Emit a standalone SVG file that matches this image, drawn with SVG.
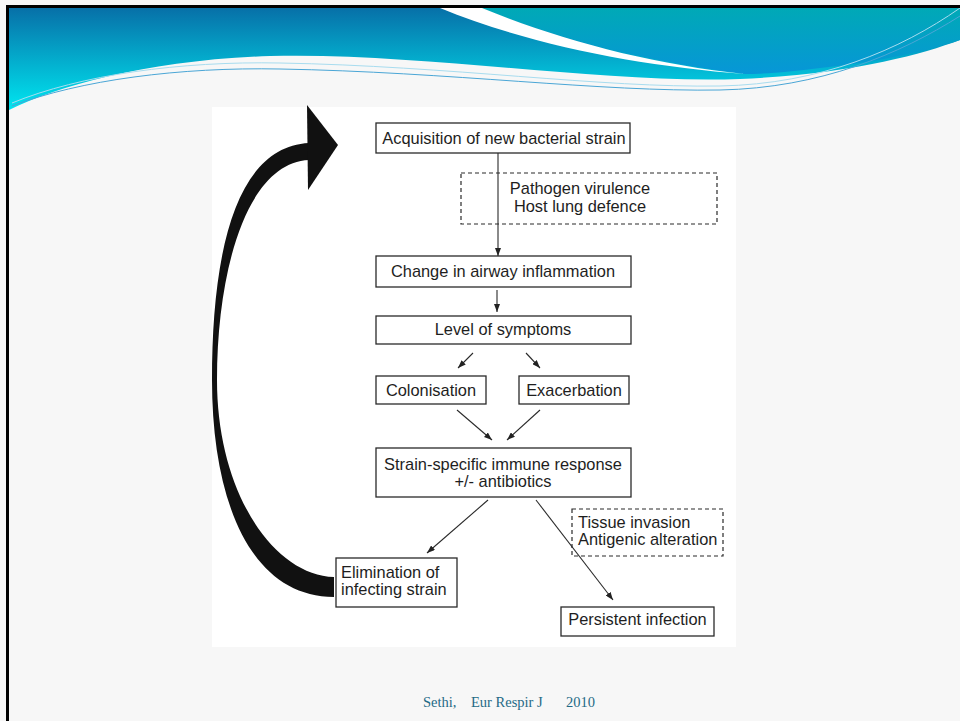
<svg xmlns="http://www.w3.org/2000/svg" width="960" height="721" viewBox="0 0 960 721">
  <defs>
    <linearGradient id="gMain" x1="0" y1="8" x2="0" y2="110" gradientUnits="userSpaceOnUse">
      <stop offset="0" stop-color="#0770a8"/>
      <stop offset="1" stop-color="#00e6f0"/>
    </linearGradient>
    <linearGradient id="gRight" x1="0" y1="8" x2="0" y2="75" gradientUnits="userSpaceOnUse">
      <stop offset="0" stop-color="#00a9b6"/>
      <stop offset="1" stop-color="#0796d8"/>
    </linearGradient>
    <marker id="ah" markerWidth="8" markerHeight="6" refX="8" refY="3" orient="auto" markerUnits="userSpaceOnUse">
      <path d="M0,0 L8,3 L0,6 Z" fill="#222"/>
    </marker>
    <style>
      .box { fill: #fff; stroke: #2a2a2a; stroke-width: 1.3; }
      .dash { fill: none; stroke: #2a2a2a; stroke-width: 1.2; stroke-dasharray: 4 3; }
      .t { font-family: "Liberation Sans", Arial, sans-serif; font-size: 16.4px; fill: #1e1e1e; }
      .c { text-anchor: middle; }
      .conn { stroke: #2a2a2a; stroke-width: 1.1; fill: none; marker-end: url(#ah); }
      .foot { font-family: "Liberation Serif", "Times New Roman", serif; font-size: 14.5px; fill: #1f6a86; }
    </style>
  </defs>

  <!-- slide background -->
  <rect x="0" y="0" width="960" height="721" fill="#f7f7f7"/>

  <!-- header -->
  <g id="header">
    <path d="M9,8 H960 V40 C920,55 850,74 740,79 C600,84 420,52 270,56 C150,60 60,85 9,110 Z" fill="url(#gMain)"/>
    <path d="M480,8 H960 V40 C930,50 880,62 820,68 C790,72 765,74 745,74 C650,62 560,40 480,8 Z" fill="url(#gRight)"/>
    <path d="M440,8 H482 C560,40 650,64 745,74 C640,66 530,45 440,8 Z" fill="#ffffff"/>
    <path d="M12,103 C80,75 180,61 280,63 C450,66 600,88 720,86 C820,84 900,50 960,8" fill="none" stroke="#a8dcef" stroke-width="1"/>
    <path d="M12,106 C80,80 180,67 280,69 C450,72 600,92 720,90 C820,88 900,54 960,16" fill="none" stroke="#4aa6d6" stroke-width="1"/>
  </g>

  <!-- slide border -->
  <rect x="6" y="5" width="954" height="3" fill="#000"/>
  <rect x="6" y="5" width="3" height="716" fill="#000"/>

  <!-- diagram image area -->
  <rect x="212" y="107" width="524" height="540" fill="#ffffff"/>

  <!-- big return arrow -->
  <g id="return-arrow" fill="#111">
    <path d="M309,143 C232,147 212,262 212,380 C212,500 250,597 334,597 L334,577 C273,575 217,492 217,380 C217,272 246,163 309,160 Z"/>
    <path d="M307,105 L338,145 L308,190 Z"/>
  </g>

  <!-- connectors -->
  <g id="connectors">
    <path class="conn" d="M498,153 V256"/>
    <path class="conn" d="M497,290 V312"/>
    <path class="conn" d="M473,353 L458,368"/>
    <path class="conn" d="M526,353 L540,368"/>
    <path class="conn" d="M457,410 L492,440"/>
    <path class="conn" d="M540,410 L507,440"/>
    <path class="conn" d="M488,500 L427,553"/>
    <path class="conn" d="M536,500 L613,600"/>
  </g>

  <!-- nodes -->
  <g id="acquisition">
    <rect class="box" x="376" y="123" width="254" height="30"/>
    <text class="t c" x="504" y="143.5">Acquisition of new bacterial strain</text>
  </g>
  <g id="virulence-factors">
    <rect class="dash" x="461" y="173" width="256" height="51"/>
    <text class="t c" x="580" y="194">Pathogen virulence</text>
    <text class="t c" x="580" y="212">Host lung defence</text>
  </g>
  <g id="inflammation">
    <rect class="box" x="376" y="256" width="255" height="31"/>
    <text class="t c" x="503" y="277">Change in airway inflammation</text>
  </g>
  <g id="symptoms">
    <rect class="box" x="376" y="316" width="255" height="28"/>
    <text class="t c" x="503" y="335">Level of symptoms</text>
  </g>
  <g id="colonisation">
    <rect class="box" x="376" y="376" width="110" height="28"/>
    <text class="t c" x="431" y="396">Colonisation</text>
  </g>
  <g id="exacerbation">
    <rect class="box" x="519" y="376" width="110" height="28"/>
    <text class="t c" x="574" y="396">Exacerbation</text>
  </g>
  <g id="immune-response">
    <rect class="box" x="376" y="448" width="255" height="49"/>
    <text class="t c" x="503" y="470">Strain-specific immune response</text>
    <text class="t c" x="503" y="487">+/- antibiotics</text>
  </g>
  <g id="persistence-factors">
    <rect class="dash" x="572" y="509" width="151" height="47"/>
    <text class="t" x="578" y="528">Tissue invasion</text>
    <text class="t" x="578" y="545">Antigenic alteration</text>
  </g>
  <g id="elimination">
    <rect class="box" x="336" y="558" width="121" height="49"/>
    <text class="t" x="341" y="578">Elimination of</text>
    <text class="t" x="341" y="595">infecting strain</text>
  </g>
  <g id="persistent">
    <rect class="box" x="561" y="607" width="153" height="29"/>
    <text class="t c" x="637.5" y="625">Persistent infection</text>
  </g>

  <!-- footer -->
  <g id="footer">
    <text class="foot" x="423" y="707">Sethi,</text>
    <text class="foot" x="471" y="707">Eur Respir J</text>
    <text class="foot" x="566" y="707">2010</text>
  </g>
</svg>
